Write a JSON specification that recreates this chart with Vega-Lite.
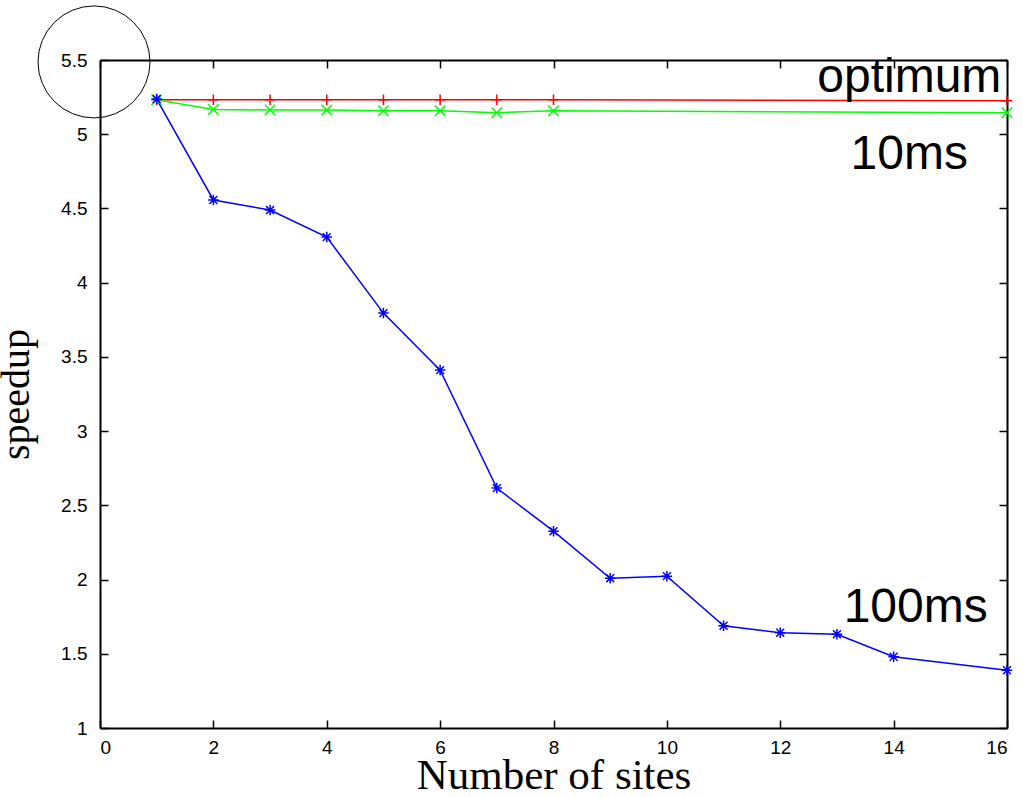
{
  "$schema": "https://vega.github.io/schema/vega-lite/v6.json",
  "width": 907,
  "height": 668,
  "autosize": {"type": "none"},
  "padding": {"left": 100, "top": 60, "right": 16, "bottom": 69},
  "background": "white",
  "config": {
    "view": {"stroke": null},
    "axis": {
      "domainColor": "black",
      "domainWidth": 2,
      "tickColor": "black",
      "tickWidth": 1.5,
      "tickSize": -8,
      "grid": false,
      "labelFont": "Liberation Sans",
      "labelFontSize": 19,
      "labelColor": "black",
      "titleFont": "Liberation Serif",
      "titleFontSize": 40,
      "titleFontWeight": "normal",
      "titleColor": "black"
    }
  },
  "datasets": {
    "series": [
      {"x": 1, "y": 5.232, "s": "optimum"},
      {"x": 2, "y": 5.232, "s": "optimum"},
      {"x": 3, "y": 5.232, "s": "optimum"},
      {"x": 4, "y": 5.232, "s": "optimum"},
      {"x": 5, "y": 5.232, "s": "optimum"},
      {"x": 6, "y": 5.232, "s": "optimum"},
      {"x": 7, "y": 5.232, "s": "optimum"},
      {"x": 8, "y": 5.232, "s": "optimum"},
      {"x": 16, "y": 5.225, "s": "optimum"},
      {"x": 1, "y": 5.232, "s": "10ms"},
      {"x": 2, "y": 5.167, "s": "10ms"},
      {"x": 3, "y": 5.163, "s": "10ms"},
      {"x": 4, "y": 5.163, "s": "10ms"},
      {"x": 5, "y": 5.158, "s": "10ms"},
      {"x": 6, "y": 5.158, "s": "10ms"},
      {"x": 7, "y": 5.145, "s": "10ms"},
      {"x": 8, "y": 5.158, "s": "10ms"},
      {"x": 16, "y": 5.145, "s": "10ms"},
      {"x": 1, "y": 5.237, "s": "100ms"},
      {"x": 2, "y": 4.557, "s": "100ms"},
      {"x": 3, "y": 4.489, "s": "100ms"},
      {"x": 4, "y": 4.307, "s": "100ms"},
      {"x": 5, "y": 3.795, "s": "100ms"},
      {"x": 6, "y": 3.411, "s": "100ms"},
      {"x": 7, "y": 2.616, "s": "100ms"},
      {"x": 8, "y": 2.326, "s": "100ms"},
      {"x": 9, "y": 2.009, "s": "100ms"},
      {"x": 10, "y": 2.023, "s": "100ms"},
      {"x": 11, "y": 1.689, "s": "100ms"},
      {"x": 12, "y": 1.642, "s": "100ms"},
      {"x": 13, "y": 1.632, "s": "100ms"},
      {"x": 14, "y": 1.48, "s": "100ms"},
      {"x": 16, "y": 1.389, "s": "100ms"}
    ],
    "labels": [
      {"label": "optimum", "x": 15.9, "y": 5.38},
      {"label": "10ms", "x": 15.31, "y": 4.86},
      {"label": "100ms", "x": 15.66, "y": 1.81}
    ],
    "circle": [
      {"x": -0.106, "y": 5.487}
    ]
  },
  "layer": [
    {
      "data": {"name": "series"},
      "mark": {"type": "line", "strokeWidth": 1.5},
      "encoding": {
        "x": {
          "field": "x", "type": "quantitative",
          "scale": {"domain": [0, 16], "nice": false, "zero": false},
          "axis": {"orient": "bottom", "values": [0, 2, 4, 6, 8, 10, 12, 14, 16], "title": "Number of sites", "titleFontSize": 43, "labelPadding": 18, "titlePadding": -3}
        },
        "y": {
          "field": "y", "type": "quantitative",
          "scale": {"domain": [1, 5.5], "nice": false, "zero": false},
          "axis": {"orient": "left", "values": [1, 1.5, 2, 2.5, 3, 3.5, 4, 4.5, 5, 5.5], "format": "~g", "title": "speedup", "labelPadding": 21, "titlePadding": 24}
        },
        "color": {
          "field": "s", "type": "nominal",
          "scale": {"domain": ["optimum", "10ms", "100ms"], "range": ["#ff0000", "#00ff00", "#0000ff"]},
          "legend": null
        }
      }
    },
    {
      "data": {"name": "series"},
      "mark": {"type": "point", "filled": false, "strokeWidth": 1.5, "size": 110, "opacity": 1},
      "encoding": {
        "x": {"field": "x", "type": "quantitative", "axis": null},
        "y": {"field": "y", "type": "quantitative", "axis": null},
        "color": {
          "field": "s", "type": "nominal",
          "scale": {"domain": ["optimum", "10ms", "100ms"], "range": ["#ff0000", "#00ff00", "#0000ff"]},
          "legend": null
        },
        "shape": {
          "field": "s", "type": "nominal",
          "scale": {"domain": ["optimum", "10ms", "100ms"], "range": ["M0,-1L0,1M-1,0L1,0", "M-1,-1L1,1M-1,1L1,-1", "M0,-1L0,1M-1,0L1,0M-0.75,-0.75L0.75,0.75M-0.75,0.75L0.75,-0.75"]},
          "legend": null
        }
      }
    },
    {
      "data": {"name": "labels"},
      "mark": {"type": "text", "align": "right", "baseline": "middle", "font": "Liberation Sans", "fontSize": 48, "color": "black"},
      "encoding": {
        "x": {"field": "x", "type": "quantitative", "axis": null},
        "y": {"field": "y", "type": "quantitative", "axis": null},
        "text": {"field": "label"}
      }
    },
    {
      "data": {"name": "circle"},
      "mark": {"type": "point", "shape": "circle", "filled": false, "size": 12544, "stroke": "black", "strokeWidth": 1, "opacity": 1},
      "encoding": {
        "x": {"field": "x", "type": "quantitative", "axis": null},
        "y": {"field": "y", "type": "quantitative", "axis": null}
      }
    },
    {
      "data": {"name": "series"},
      "mark": {"type": "point", "opacity": 0},
      "encoding": {
        "x": {"field": "x", "type": "quantitative", "axis": {"orient": "top", "values": [0, 2, 4, 6, 8, 10, 12, 14, 16], "labels": false, "title": null}},
        "y": {"field": "y", "type": "quantitative", "axis": {"orient": "right", "values": [1, 1.5, 2, 2.5, 3, 3.5, 4, 4.5, 5, 5.5], "labels": false, "title": null}}
      }
    }
  ],
  "resolve": {"axis": {"x": "independent", "y": "independent"}}
}
